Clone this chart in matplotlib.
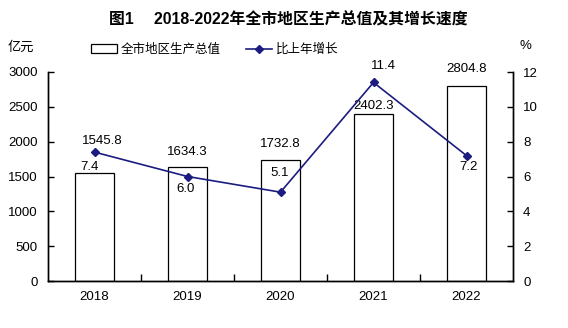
import matplotlib
matplotlib.use("Agg")
import matplotlib.pyplot as plt
import numpy as np

plt.rcParams['font.family'] = ['Liberation Sans', 'Noto Sans CJK SC']
plt.rcParams['axes.unicode_minus'] = False

# donnees
years = ['2018', '2019', '2020', '2021', '2022']
gdp = [1545.8, 1634.3, 1732.8, 2402.3, 2804.8]
growth = [7.4, 6.0, 5.1, 11.4, 7.2]

# decalages des etiquettes (pixels)
gdp_off = [(8, 32), (0, 15), (0, 16), (0, 8), (0, 17)]
growth_off = [(-5, -15), (-2, -13), (-1, 19), (10, 16), (2, -11)]

navy = '#1c1c80'

fig = plt.figure(figsize=(5.68, 3.28), dpi=100)
ax = fig.add_axes([48/568, 1-281/328, (513-48)/568, (281-72)/328])
ax2 = ax.twinx()

x = np.arange(len(years))
bars = ax.bar(x, gdp, width=0.415, color='white', edgecolor='black', linewidth=0.9,
              label='全市地区生产总值', zorder=2)
line, = ax2.plot(x, growth, color=navy, linewidth=1.2, marker='D', markersize=4.5,
                 label='比上年增长', zorder=3)

ax.set_xlim(-0.5, 4.5)
ax.set_ylim(0, 3000)
ax.set_yticks(np.arange(0, 3001, 500))
ax2.set_ylim(0, 12)
ax2.set_yticks(np.arange(0, 13, 2))

# ticks aux frontieres, etiquettes au centre
ax.set_xticks(np.arange(0.5, 4.5, 1))
ax.set_xticklabels([])
ax.set_xticks(x, minor=True)
ax.set_xticklabels(years, minor=True)
ax.tick_params(axis='x', which='major', direction='in', length=5, width=1)
ax.tick_params(axis='x', which='minor', length=0, pad=7, labelsize=9.5)
ax.tick_params(axis='y', direction='in', length=4, width=1, pad=7.2, labelsize=9.5)
ax2.tick_params(axis='y', direction='in', length=4, width=1, pad=7.2, labelsize=9.5)

for a in (ax, ax2):
    a.spines['top'].set_visible(False)
    for s in ('left', 'right', 'bottom'):
        a.spines[s].set_linewidth(1)

ax2.set_zorder(ax.get_zorder() + 1)
ax2.patch.set_visible(False)

for i in range(len(years)):
    ax.annotate(f'{gdp[i]:.1f}', (x[i], gdp[i]), xytext=gdp_off[i],
                textcoords='offset pixels', ha='center', va='center', fontsize=9.5)
    ax2.annotate(f'{growth[i]:.1f}', (x[i], growth[i]), xytext=growth_off[i],
                 textcoords='offset pixels', ha='center', va='center', fontsize=9.5)

fig.text(288/568, 1-20/328, '图1　 2018-2022年全市地区生产总值及其增长速度',
         ha='center', va='center', fontsize=11.4, fontweight='bold')
fig.text(8/568, 1-48/328, '亿元', ha='left', va='center', fontsize=9.5)
fig.text(525/568, 1-46/328, '%', ha='center', va='center', fontsize=9.5)

fig.legend(handles=[bars, line], loc='center left', bbox_to_anchor=(91/568, 1-50/328),
           ncol=2, frameon=False, fontsize=9, handlelength=2.1, handletextpad=0.3,
           columnspacing=2.0, borderpad=0, borderaxespad=0)

fig.savefig('out.png', dpi=100)
